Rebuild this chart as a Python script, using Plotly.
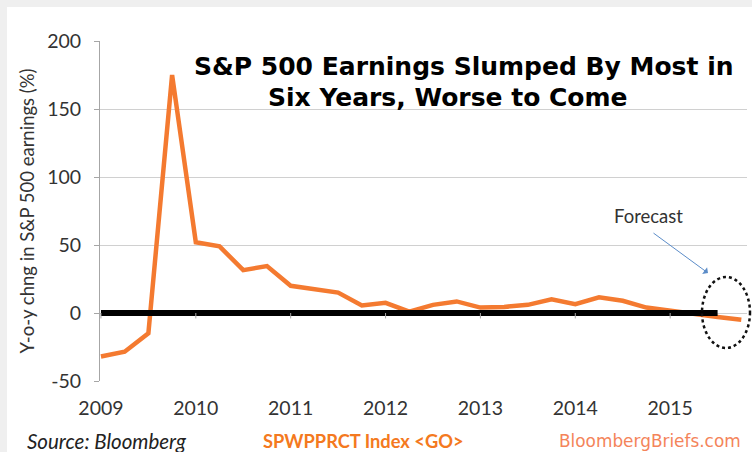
import plotly.graph_objects as go

# ---- data (quarterly, 2009 Q1 .. 2015 Q4) ----
start_year = 2009
yoy_change = [-32, -28.5, -15, 175, 52, 49, 31.5, 34.5,
              20, 17.5, 15, 5.5, 7.5, 1, 6, 8.5,
              4, 4.5, 6, 10, 6.5, 11.5, 9, 4,
              1.5, -1, -3, -5]
zero_line_quarters = 27  # black zero reference spans through 2015 Q3
years = [2009, 2010, 2011, 2012, 2013, 2014, 2015]
y_ticks = [-50, 0, 50, 100, 150, 200]
y_tick_text = ["-50", "0", "50", "100", "150", "200"]

x_vals = [start_year + 0.25 * i for i in range(len(yoy_change))]
x_zero = x_vals[:zero_line_quarters]
zero_vals = [0] * zero_line_quarters

W, H = 752, 452
PL, PR, PT, PB = 100, 747, 41, 381  # plot area in window pixels
L, R, T, B = PL, W - PR, PT, H - PB
PW, PH = PR - PL, PB - PT


def px_x(p):
    return (p - PL) / PW


def px_y(p):
    return (PB - p) / PH


fig = go.Figure()
fig.add_trace(go.Scatter(x=x_vals, y=yoy_change, mode="lines",
                         line=dict(color="#f47a30", width=4.5),
                         hoverinfo="skip", showlegend=False))
fig.add_trace(go.Scatter(x=x_zero, y=zero_vals, mode="lines",
                         line=dict(color="#000000", width=6),
                         hoverinfo="skip", showlegend=False))

shapes = [
    dict(type="rect", xref="paper", yref="paper", layer="below",
         x0=px_x(7), x1=px_x(W + 5), y0=px_y(H + 5), y1=px_y(7),
         fillcolor="#ffffff", line=dict(width=0)),
]
for yr in years:
    shapes.append(dict(type="line", xref="x", yref="y", x0=yr, x1=yr,
                       y0=0, y1=-4, line=dict(color="#a6a6a6", width=1)))
shapes.append(dict(type="circle", xref="paper", yref="paper",
                   x0=px_x(702), x1=px_x(750), y0=px_y(348), y1=px_y(277),
                   line=dict(color="#111111", width=2.5, dash="dot")))

annotations = [
    dict(text="<b>S&P 500 Earnings Slumped By Most in</b>", xref="paper", yref="paper",
         x=px_x(464), y=px_y(67), showarrow=False, xanchor="center", yanchor="middle",
         font=dict(family="DejaVu Sans", size=25, color="#000000")),
    dict(text="<b>Six Years, Worse to Come</b>", xref="paper", yref="paper",
         x=px_x(448), y=px_y(98), showarrow=False, xanchor="center", yanchor="middle",
         font=dict(family="DejaVu Sans", size=25, color="#000000")),
    dict(text="Forecast", xref="paper", yref="paper",
         x=px_x(648), y=px_y(216), showarrow=False, xanchor="center", yanchor="middle",
         font=dict(family="Lato", size=18.5, color="#333333")),
    dict(text="", xref="paper", yref="paper", x=px_x(708), y=px_y(273),
         ax=652 - 708, ay=232 - 273, showarrow=True, arrowhead=1, arrowsize=1.4,
         arrowwidth=1, arrowcolor="#5b8cc8"),
    dict(text="<i>Source: Bloomberg</i>", xref="paper", yref="paper",
         x=px_x(25), y=px_y(441), showarrow=False, xanchor="left", yanchor="middle",
         font=dict(family="Lato", size=20.5, color="#222222")),
    dict(text="<b>SPWPPRCT Index <GO></b>", xref="paper", yref="paper",
         x=px_x(363), y=px_y(441), showarrow=False, xanchor="center", yanchor="middle",
         font=dict(family="Lato", size=18.3, color="#f47920")),
    dict(text="BloombergBriefs.com", xref="paper", yref="paper",
         x=px_x(743), y=px_y(441), showarrow=False, xanchor="right", yanchor="middle",
         font=dict(family="DejaVu Sans", size=16.9, color="#f4845a")),
]

fig.update_layout(
    width=W, height=H,
    margin=dict(l=L, r=R, t=T, b=B),
    paper_bgcolor="#efefef", plot_bgcolor="rgba(0,0,0,0)",
    shapes=shapes, annotations=annotations,
    xaxis=dict(range=[2008.99, 2015.81], tickmode="array", tickvals=years,
               ticktext=[str(y) for y in years], showgrid=False, zeroline=False,
               showline=False, ticks="", ticklabelstandoff=13,
               tickfont=dict(family="Lato", size=19.5, color="#333333")),
    yaxis=dict(range=[-50, 200], tickmode="array", tickvals=y_ticks,
               ticktext=y_tick_text,
               showgrid=True, gridcolor="#d0d0d0", gridwidth=1, zeroline=False,
               showline=True, linecolor="#a6a6a6", linewidth=1,
               ticks="outside", ticklen=5, tickcolor="#a6a6a6",
               ticklabelstandoff=9,
               tickfont=dict(family="Lato", size=19.5, color="#333333"),
               title=dict(text="Y-o-y chng in S&P 500 earnings (%)", standoff=7,
                          font=dict(family="Lato", size=18.5, color="#333333"))),
)

fig.write_html(
    "out.html",
    config=dict(displayModeBar=False),
    post_script=("document.body.style.margin='0';"
                 "document.body.style.background='#efefef';"
                 "document.body.style.overflow='hidden';"
                 "document.documentElement.style.overflow='hidden';"))
